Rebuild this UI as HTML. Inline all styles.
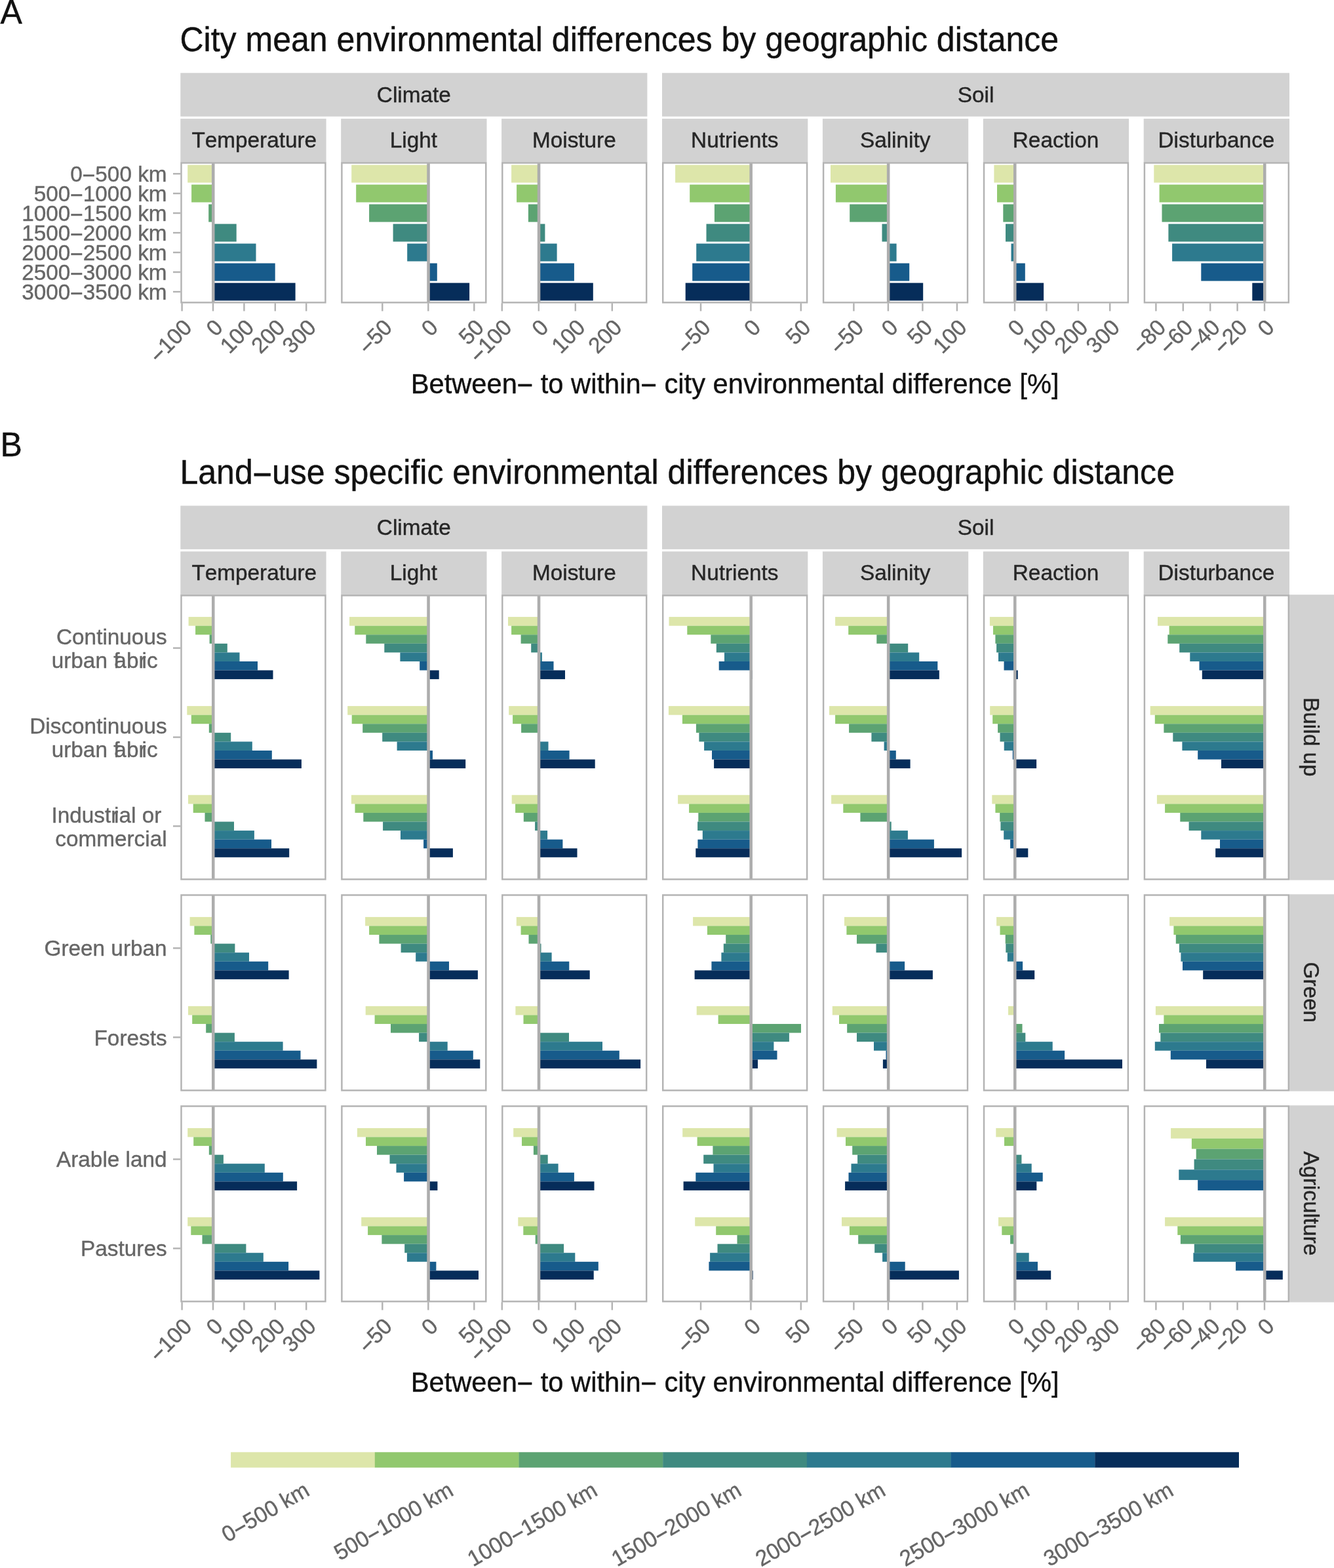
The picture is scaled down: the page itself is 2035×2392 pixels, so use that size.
<!DOCTYPE html>
<html lang="en">
<head>
<meta charset="utf-8">
<title>Environmental differences by geographic distance</title>
<style>html,body{margin:0;padding:0;background:#fff}body{width:2035px;height:2392px;overflow:hidden}svg{display:block}text{white-space:pre;font-kerning:none;stroke-width:0.4px;stroke-linejoin:round}</style>
</head>
<body>
<svg width="2035" height="2392" viewBox="0 0 2035 2392" font-family='"Liberation Sans", sans-serif'>
<rect x="0" y="0" width="2035" height="2392" fill="#FFFFFF"/>
<text transform="translate(0.5 35.8) scale(1 1.02)" font-size="50.05" fill="#111111" stroke="#111111" text-anchor="start">A</text>
<text transform="translate(274.4 78.2) scale(1 1.02)" font-size="50.05" fill="#111111" stroke="#111111" text-anchor="start">City mean environmental differences by geographic distance</text>
<rect x="275.3" y="111.3" width="712.1" height="66.4" fill="#D2D2D2"/>
<rect x="1010" y="111.3" width="957" height="66.4" fill="#D2D2D2"/>
<text transform="translate(631.35 155.7) scale(1 1.02)" font-size="33.33" fill="#262626" stroke="#262626" text-anchor="middle">Climate</text>
<text transform="translate(1488.5 155.7) scale(1 1.02)" font-size="33.33" fill="#262626" stroke="#262626" text-anchor="middle">Soil</text>
<rect x="275.3" y="181.1" width="222.3" height="66.6" fill="#D2D2D2"/>
<text transform="translate(387.75 224.8) scale(1 1.02)" font-size="33.33" fill="#262626" stroke="#262626" text-anchor="middle">Temperature</text>
<rect x="520.2" y="181.1" width="222.3" height="66.6" fill="#D2D2D2"/>
<text transform="translate(630.95 224.8) scale(1 1.02)" font-size="33.33" fill="#262626" stroke="#262626" text-anchor="middle">Light</text>
<rect x="765.1" y="181.1" width="222.3" height="66.6" fill="#D2D2D2"/>
<text transform="translate(875.85 224.8) scale(1 1.02)" font-size="33.33" fill="#262626" stroke="#262626" text-anchor="middle">Moisture</text>
<rect x="1010" y="181.1" width="222.3" height="66.6" fill="#D2D2D2"/>
<text transform="translate(1120.75 224.8) scale(1 1.02)" font-size="33.33" fill="#262626" stroke="#262626" text-anchor="middle">Nutrients</text>
<rect x="1254.9" y="181.1" width="222.3" height="66.6" fill="#D2D2D2"/>
<text transform="translate(1365.65 224.8) scale(1 1.02)" font-size="33.33" fill="#262626" stroke="#262626" text-anchor="middle">Salinity</text>
<rect x="1499.8" y="181.1" width="222.3" height="66.6" fill="#D2D2D2"/>
<text transform="translate(1610.55 224.8) scale(1 1.02)" font-size="33.33" fill="#262626" stroke="#262626" text-anchor="middle">Reaction</text>
<rect x="1744.7" y="181.1" width="222.3" height="66.6" fill="#D2D2D2"/>
<text transform="translate(1855.45 224.8) scale(1 1.02)" font-size="33.33" fill="#262626" stroke="#262626" text-anchor="middle">Disturbance</text>
<rect x="276.5" y="248.5" width="219.9" height="213" fill="#FFFFFF"/>
<rect x="286.2" y="251.6" width="38.8" height="27" fill="#DDE6AA"/>
<rect x="292.1" y="281.6" width="32.9" height="27" fill="#91C86E"/>
<rect x="318.2" y="311.6" width="6.8" height="27" fill="#5CA372"/>
<rect x="325" y="341.6" width="35.7" height="27" fill="#3F8A80"/>
<rect x="325" y="371.6" width="65.5" height="27" fill="#2D7A8E"/>
<rect x="325" y="401.6" width="94.7" height="27" fill="#175B8B"/>
<rect x="325" y="431.6" width="125.6" height="27" fill="#062D5A"/>
<line x1="325.25" x2="325.25" y1="248.5" y2="461.5" stroke="#ADADAD" stroke-width="4.55"/>
<rect x="276.5" y="248.5" width="219.9" height="213" fill="none" stroke="#B3B3B3" stroke-width="2.45"/>
<rect x="521.4" y="248.5" width="219.9" height="213" fill="#FFFFFF"/>
<rect x="536.2" y="251.6" width="117.1" height="27" fill="#DDE6AA"/>
<rect x="543.2" y="281.6" width="110.1" height="27" fill="#91C86E"/>
<rect x="563.1" y="311.6" width="90.2" height="27" fill="#5CA372"/>
<rect x="599.6" y="341.6" width="53.7" height="27" fill="#3F8A80"/>
<rect x="621.2" y="371.6" width="32.1" height="27" fill="#2D7A8E"/>
<rect x="653.3" y="401.6" width="13.5" height="27" fill="#175B8B"/>
<rect x="653.3" y="431.6" width="62.8" height="27" fill="#062D5A"/>
<line x1="653.55" x2="653.55" y1="248.5" y2="461.5" stroke="#ADADAD" stroke-width="4.55"/>
<rect x="521.4" y="248.5" width="219.9" height="213" fill="none" stroke="#B3B3B3" stroke-width="2.45"/>
<rect x="766.3" y="248.5" width="219.9" height="213" fill="#FFFFFF"/>
<rect x="780.1" y="251.6" width="41.7" height="27" fill="#DDE6AA"/>
<rect x="788.1" y="281.6" width="33.7" height="27" fill="#91C86E"/>
<rect x="805.9" y="311.6" width="15.9" height="27" fill="#5CA372"/>
<rect x="821.8" y="341.6" width="9.6" height="27" fill="#3F8A80"/>
<rect x="821.8" y="371.6" width="27.8" height="27" fill="#2D7A8E"/>
<rect x="821.8" y="401.6" width="54.1" height="27" fill="#175B8B"/>
<rect x="821.8" y="431.6" width="83" height="27" fill="#062D5A"/>
<line x1="822.05" x2="822.05" y1="248.5" y2="461.5" stroke="#ADADAD" stroke-width="4.55"/>
<rect x="766.3" y="248.5" width="219.9" height="213" fill="none" stroke="#B3B3B3" stroke-width="2.45"/>
<rect x="1011.2" y="248.5" width="219.9" height="213" fill="#FFFFFF"/>
<rect x="1030.1" y="251.6" width="115.3" height="27" fill="#DDE6AA"/>
<rect x="1052.2" y="281.6" width="93.2" height="27" fill="#91C86E"/>
<rect x="1089.9" y="311.6" width="55.5" height="27" fill="#5CA372"/>
<rect x="1077.5" y="341.6" width="67.9" height="27" fill="#3F8A80"/>
<rect x="1062.2" y="371.6" width="83.2" height="27" fill="#2D7A8E"/>
<rect x="1056.2" y="401.6" width="89.2" height="27" fill="#175B8B"/>
<rect x="1045.7" y="431.6" width="99.7" height="27" fill="#062D5A"/>
<line x1="1145.65" x2="1145.65" y1="248.5" y2="461.5" stroke="#ADADAD" stroke-width="4.55"/>
<rect x="1011.2" y="248.5" width="219.9" height="213" fill="none" stroke="#B3B3B3" stroke-width="2.45"/>
<rect x="1256.1" y="248.5" width="219.9" height="213" fill="#FFFFFF"/>
<rect x="1267" y="251.6" width="87.9" height="27" fill="#DDE6AA"/>
<rect x="1274.9" y="281.6" width="80" height="27" fill="#91C86E"/>
<rect x="1296.2" y="311.6" width="58.7" height="27" fill="#5CA372"/>
<rect x="1345.5" y="341.6" width="9.4" height="27" fill="#3F8A80"/>
<rect x="1354.9" y="371.6" width="12.7" height="27" fill="#2D7A8E"/>
<rect x="1354.9" y="401.6" width="32.3" height="27" fill="#175B8B"/>
<rect x="1354.9" y="431.6" width="53.3" height="27" fill="#062D5A"/>
<line x1="1355.15" x2="1355.15" y1="248.5" y2="461.5" stroke="#ADADAD" stroke-width="4.55"/>
<rect x="1256.1" y="248.5" width="219.9" height="213" fill="none" stroke="#B3B3B3" stroke-width="2.45"/>
<rect x="1501" y="248.5" width="219.9" height="213" fill="#FFFFFF"/>
<rect x="1516.4" y="251.6" width="31.6" height="27" fill="#DDE6AA"/>
<rect x="1521" y="281.6" width="27" height="27" fill="#91C86E"/>
<rect x="1530.3" y="311.6" width="17.7" height="27" fill="#5CA372"/>
<rect x="1534" y="341.6" width="14" height="27" fill="#3F8A80"/>
<rect x="1542.5" y="371.6" width="5.5" height="27" fill="#2D7A8E"/>
<rect x="1548" y="401.6" width="15.8" height="27" fill="#175B8B"/>
<rect x="1548" y="431.6" width="44.1" height="27" fill="#062D5A"/>
<line x1="1548.25" x2="1548.25" y1="248.5" y2="461.5" stroke="#ADADAD" stroke-width="4.55"/>
<rect x="1501" y="248.5" width="219.9" height="213" fill="none" stroke="#B3B3B3" stroke-width="2.45"/>
<rect x="1745.9" y="248.5" width="219.9" height="213" fill="#FFFFFF"/>
<rect x="1760.3" y="251.6" width="168.7" height="27" fill="#DDE6AA"/>
<rect x="1768.6" y="281.6" width="160.4" height="27" fill="#91C86E"/>
<rect x="1772.5" y="311.6" width="156.5" height="27" fill="#5CA372"/>
<rect x="1782.4" y="341.6" width="146.6" height="27" fill="#3F8A80"/>
<rect x="1788.1" y="371.6" width="140.9" height="27" fill="#2D7A8E"/>
<rect x="1832.3" y="401.6" width="96.7" height="27" fill="#175B8B"/>
<rect x="1910.3" y="431.6" width="18.7" height="27" fill="#062D5A"/>
<line x1="1929.25" x2="1929.25" y1="248.5" y2="461.5" stroke="#ADADAD" stroke-width="4.55"/>
<rect x="1745.9" y="248.5" width="219.9" height="213" fill="none" stroke="#B3B3B3" stroke-width="2.45"/>
<line x1="264" x2="275.3" y1="265.1" y2="265.1" stroke="#B3B3B3" stroke-width="2.45"/>
<text transform="translate(254.6 277) scale(1 1.02)" font-size="33.33" fill="#666666" stroke="#666666" text-anchor="end">0<tspan dy="1.8" stroke="#666666" stroke-width="0.67">−</tspan><tspan dy="-1.8">500 km</tspan></text>
<line x1="264" x2="275.3" y1="295.1" y2="295.1" stroke="#B3B3B3" stroke-width="2.45"/>
<text transform="translate(254.6 307) scale(1 1.02)" font-size="33.33" fill="#666666" stroke="#666666" text-anchor="end">500<tspan dy="1.8" stroke="#666666" stroke-width="0.67">−</tspan><tspan dy="-1.8">1000 km</tspan></text>
<line x1="264" x2="275.3" y1="325.1" y2="325.1" stroke="#B3B3B3" stroke-width="2.45"/>
<text transform="translate(254.6 337) scale(1 1.02)" font-size="33.33" fill="#666666" stroke="#666666" text-anchor="end">1000<tspan dy="1.8" stroke="#666666" stroke-width="0.67">−</tspan><tspan dy="-1.8">1500 km</tspan></text>
<line x1="264" x2="275.3" y1="355.1" y2="355.1" stroke="#B3B3B3" stroke-width="2.45"/>
<text transform="translate(254.6 367) scale(1 1.02)" font-size="33.33" fill="#666666" stroke="#666666" text-anchor="end">1500<tspan dy="1.8" stroke="#666666" stroke-width="0.67">−</tspan><tspan dy="-1.8">2000 km</tspan></text>
<line x1="264" x2="275.3" y1="385.1" y2="385.1" stroke="#B3B3B3" stroke-width="2.45"/>
<text transform="translate(254.6 397) scale(1 1.02)" font-size="33.33" fill="#666666" stroke="#666666" text-anchor="end">2000<tspan dy="1.8" stroke="#666666" stroke-width="0.67">−</tspan><tspan dy="-1.8">2500 km</tspan></text>
<line x1="264" x2="275.3" y1="415.1" y2="415.1" stroke="#B3B3B3" stroke-width="2.45"/>
<text transform="translate(254.6 427) scale(1 1.02)" font-size="33.33" fill="#666666" stroke="#666666" text-anchor="end">2500<tspan dy="1.8" stroke="#666666" stroke-width="0.67">−</tspan><tspan dy="-1.8">3000 km</tspan></text>
<line x1="264" x2="275.3" y1="445.1" y2="445.1" stroke="#B3B3B3" stroke-width="2.45"/>
<text transform="translate(254.6 457) scale(1 1.02)" font-size="33.33" fill="#666666" stroke="#666666" text-anchor="end">3000<tspan dy="1.8" stroke="#666666" stroke-width="0.67">−</tspan><tspan dy="-1.8">3500 km</tspan></text>
<line x1="277.6" x2="277.6" y1="462.43" y2="474.62" stroke="#B3B3B3" stroke-width="2.45"/>
<text transform="translate(277.6 484.73) rotate(-45) translate(0 23.9) scale(1 1.02)" font-size="33.33" fill="#666666" stroke="#666666" text-anchor="end"><tspan dy="1.8" stroke="#666666" stroke-width="0.67">−</tspan><tspan dy="-1.8">100</tspan></text>
<line x1="325" x2="325" y1="462.43" y2="474.62" stroke="#B3B3B3" stroke-width="2.45"/>
<text transform="translate(325 484.73) rotate(-45) translate(0 23.9) scale(1 1.02)" font-size="33.33" fill="#666666" stroke="#666666" text-anchor="end">0</text>
<line x1="372.4" x2="372.4" y1="462.43" y2="474.62" stroke="#B3B3B3" stroke-width="2.45"/>
<text transform="translate(372.4 484.73) rotate(-45) translate(0 23.9) scale(1 1.02)" font-size="33.33" fill="#666666" stroke="#666666" text-anchor="end">100</text>
<line x1="419.8" x2="419.8" y1="462.43" y2="474.62" stroke="#B3B3B3" stroke-width="2.45"/>
<text transform="translate(419.8 484.73) rotate(-45) translate(0 23.9) scale(1 1.02)" font-size="33.33" fill="#666666" stroke="#666666" text-anchor="end">200</text>
<line x1="467.2" x2="467.2" y1="462.43" y2="474.62" stroke="#B3B3B3" stroke-width="2.45"/>
<text transform="translate(467.2 484.73) rotate(-45) translate(0 23.9) scale(1 1.02)" font-size="33.33" fill="#666666" stroke="#666666" text-anchor="end">300</text>
<line x1="583.3" x2="583.3" y1="462.43" y2="474.62" stroke="#B3B3B3" stroke-width="2.45"/>
<text transform="translate(583.3 484.73) rotate(-45) translate(0 23.9) scale(1 1.02)" font-size="33.33" fill="#666666" stroke="#666666" text-anchor="end"><tspan dy="1.8" stroke="#666666" stroke-width="0.67">−</tspan><tspan dy="-1.8">50</tspan></text>
<line x1="653.3" x2="653.3" y1="462.43" y2="474.62" stroke="#B3B3B3" stroke-width="2.45"/>
<text transform="translate(653.3 484.73) rotate(-45) translate(0 23.9) scale(1 1.02)" font-size="33.33" fill="#666666" stroke="#666666" text-anchor="end">0</text>
<line x1="723.3" x2="723.3" y1="462.43" y2="474.62" stroke="#B3B3B3" stroke-width="2.45"/>
<text transform="translate(723.3 484.73) rotate(-45) translate(0 23.9) scale(1 1.02)" font-size="33.33" fill="#666666" stroke="#666666" text-anchor="end">50</text>
<line x1="765.8" x2="765.8" y1="462.43" y2="474.62" stroke="#B3B3B3" stroke-width="2.45"/>
<text transform="translate(765.8 484.73) rotate(-45) translate(0 23.9) scale(1 1.02)" font-size="33.33" fill="#666666" stroke="#666666" text-anchor="end"><tspan dy="1.8" stroke="#666666" stroke-width="0.67">−</tspan><tspan dy="-1.8">100</tspan></text>
<line x1="821.8" x2="821.8" y1="462.43" y2="474.62" stroke="#B3B3B3" stroke-width="2.45"/>
<text transform="translate(821.8 484.73) rotate(-45) translate(0 23.9) scale(1 1.02)" font-size="33.33" fill="#666666" stroke="#666666" text-anchor="end">0</text>
<line x1="877.8" x2="877.8" y1="462.43" y2="474.62" stroke="#B3B3B3" stroke-width="2.45"/>
<text transform="translate(877.8 484.73) rotate(-45) translate(0 23.9) scale(1 1.02)" font-size="33.33" fill="#666666" stroke="#666666" text-anchor="end">100</text>
<line x1="933.8" x2="933.8" y1="462.43" y2="474.62" stroke="#B3B3B3" stroke-width="2.45"/>
<text transform="translate(933.8 484.73) rotate(-45) translate(0 23.9) scale(1 1.02)" font-size="33.33" fill="#666666" stroke="#666666" text-anchor="end">200</text>
<line x1="1069" x2="1069" y1="462.43" y2="474.62" stroke="#B3B3B3" stroke-width="2.45"/>
<text transform="translate(1069 484.73) rotate(-45) translate(0 23.9) scale(1 1.02)" font-size="33.33" fill="#666666" stroke="#666666" text-anchor="end"><tspan dy="1.8" stroke="#666666" stroke-width="0.67">−</tspan><tspan dy="-1.8">50</tspan></text>
<line x1="1145.4" x2="1145.4" y1="462.43" y2="474.62" stroke="#B3B3B3" stroke-width="2.45"/>
<text transform="translate(1145.4 484.73) rotate(-45) translate(0 23.9) scale(1 1.02)" font-size="33.33" fill="#666666" stroke="#666666" text-anchor="end">0</text>
<line x1="1221.8" x2="1221.8" y1="462.43" y2="474.62" stroke="#B3B3B3" stroke-width="2.45"/>
<text transform="translate(1221.8 484.73) rotate(-45) translate(0 23.9) scale(1 1.02)" font-size="33.33" fill="#666666" stroke="#666666" text-anchor="end">50</text>
<line x1="1302.4" x2="1302.4" y1="462.43" y2="474.62" stroke="#B3B3B3" stroke-width="2.45"/>
<text transform="translate(1302.4 484.73) rotate(-45) translate(0 23.9) scale(1 1.02)" font-size="33.33" fill="#666666" stroke="#666666" text-anchor="end"><tspan dy="1.8" stroke="#666666" stroke-width="0.67">−</tspan><tspan dy="-1.8">50</tspan></text>
<line x1="1354.9" x2="1354.9" y1="462.43" y2="474.62" stroke="#B3B3B3" stroke-width="2.45"/>
<text transform="translate(1354.9 484.73) rotate(-45) translate(0 23.9) scale(1 1.02)" font-size="33.33" fill="#666666" stroke="#666666" text-anchor="end">0</text>
<line x1="1407.4" x2="1407.4" y1="462.43" y2="474.62" stroke="#B3B3B3" stroke-width="2.45"/>
<text transform="translate(1407.4 484.73) rotate(-45) translate(0 23.9) scale(1 1.02)" font-size="33.33" fill="#666666" stroke="#666666" text-anchor="end">50</text>
<line x1="1459.9" x2="1459.9" y1="462.43" y2="474.62" stroke="#B3B3B3" stroke-width="2.45"/>
<text transform="translate(1459.9 484.73) rotate(-45) translate(0 23.9) scale(1 1.02)" font-size="33.33" fill="#666666" stroke="#666666" text-anchor="end">100</text>
<line x1="1548" x2="1548" y1="462.43" y2="474.62" stroke="#B3B3B3" stroke-width="2.45"/>
<text transform="translate(1548 484.73) rotate(-45) translate(0 23.9) scale(1 1.02)" font-size="33.33" fill="#666666" stroke="#666666" text-anchor="end">0</text>
<line x1="1596.4" x2="1596.4" y1="462.43" y2="474.62" stroke="#B3B3B3" stroke-width="2.45"/>
<text transform="translate(1596.4 484.73) rotate(-45) translate(0 23.9) scale(1 1.02)" font-size="33.33" fill="#666666" stroke="#666666" text-anchor="end">100</text>
<line x1="1644.8" x2="1644.8" y1="462.43" y2="474.62" stroke="#B3B3B3" stroke-width="2.45"/>
<text transform="translate(1644.8 484.73) rotate(-45) translate(0 23.9) scale(1 1.02)" font-size="33.33" fill="#666666" stroke="#666666" text-anchor="end">200</text>
<line x1="1693.2" x2="1693.2" y1="462.43" y2="474.62" stroke="#B3B3B3" stroke-width="2.45"/>
<text transform="translate(1693.2 484.73) rotate(-45) translate(0 23.9) scale(1 1.02)" font-size="33.33" fill="#666666" stroke="#666666" text-anchor="end">300</text>
<line x1="1763.4" x2="1763.4" y1="462.43" y2="474.62" stroke="#B3B3B3" stroke-width="2.45"/>
<text transform="translate(1763.4 484.73) rotate(-45) translate(0 23.9) scale(1 1.02)" font-size="33.33" fill="#666666" stroke="#666666" text-anchor="end"><tspan dy="1.8" stroke="#666666" stroke-width="0.67">−</tspan><tspan dy="-1.8">80</tspan></text>
<line x1="1804.8" x2="1804.8" y1="462.43" y2="474.62" stroke="#B3B3B3" stroke-width="2.45"/>
<text transform="translate(1804.8 484.73) rotate(-45) translate(0 23.9) scale(1 1.02)" font-size="33.33" fill="#666666" stroke="#666666" text-anchor="end"><tspan dy="1.8" stroke="#666666" stroke-width="0.67">−</tspan><tspan dy="-1.8">60</tspan></text>
<line x1="1846.2" x2="1846.2" y1="462.43" y2="474.62" stroke="#B3B3B3" stroke-width="2.45"/>
<text transform="translate(1846.2 484.73) rotate(-45) translate(0 23.9) scale(1 1.02)" font-size="33.33" fill="#666666" stroke="#666666" text-anchor="end"><tspan dy="1.8" stroke="#666666" stroke-width="0.67">−</tspan><tspan dy="-1.8">40</tspan></text>
<line x1="1887.6" x2="1887.6" y1="462.43" y2="474.62" stroke="#B3B3B3" stroke-width="2.45"/>
<text transform="translate(1887.6 484.73) rotate(-45) translate(0 23.9) scale(1 1.02)" font-size="33.33" fill="#666666" stroke="#666666" text-anchor="end"><tspan dy="1.8" stroke="#666666" stroke-width="0.67">−</tspan><tspan dy="-1.8">20</tspan></text>
<line x1="1929" x2="1929" y1="462.43" y2="474.62" stroke="#B3B3B3" stroke-width="2.45"/>
<text transform="translate(1929 484.73) rotate(-45) translate(0 23.9) scale(1 1.02)" font-size="33.33" fill="#666666" stroke="#666666" text-anchor="end">0</text>
<text transform="translate(1121.1 599.9) scale(1 1.02)" font-size="41.67" fill="#111111" stroke="#111111" text-anchor="middle">Between<tspan dy="2.25" stroke="#111111" stroke-width="0.83">−</tspan><tspan dy="-2.25"> to within</tspan><tspan dy="2.25" stroke="#111111" stroke-width="0.83">−</tspan><tspan dy="-2.25"> city environmental difference [%]</tspan></text>
<text transform="translate(0.5 696) scale(1 1.02)" font-size="50.05" fill="#111111" stroke="#111111" text-anchor="start">B</text>
<text transform="translate(274.4 738) scale(1 1.02)" font-size="50.05" fill="#111111" stroke="#111111" text-anchor="start">Land<tspan dy="2.7" stroke="#111111" stroke-width="1">−</tspan><tspan dy="-2.7">use specific environmental differences by geographic distance</tspan></text>
<rect x="275.3" y="771.5" width="712.1" height="66.4" fill="#D2D2D2"/>
<rect x="1010" y="771.5" width="957" height="66.4" fill="#D2D2D2"/>
<text transform="translate(631.35 815.9) scale(1 1.02)" font-size="33.33" fill="#262626" stroke="#262626" text-anchor="middle">Climate</text>
<text transform="translate(1488.5 815.9) scale(1 1.02)" font-size="33.33" fill="#262626" stroke="#262626" text-anchor="middle">Soil</text>
<rect x="275.3" y="841.3" width="222.3" height="66.6" fill="#D2D2D2"/>
<text transform="translate(387.75 885) scale(1 1.02)" font-size="33.33" fill="#262626" stroke="#262626" text-anchor="middle">Temperature</text>
<rect x="520.2" y="841.3" width="222.3" height="66.6" fill="#D2D2D2"/>
<text transform="translate(630.95 885) scale(1 1.02)" font-size="33.33" fill="#262626" stroke="#262626" text-anchor="middle">Light</text>
<rect x="765.1" y="841.3" width="222.3" height="66.6" fill="#D2D2D2"/>
<text transform="translate(875.85 885) scale(1 1.02)" font-size="33.33" fill="#262626" stroke="#262626" text-anchor="middle">Moisture</text>
<rect x="1010" y="841.3" width="222.3" height="66.6" fill="#D2D2D2"/>
<text transform="translate(1120.75 885) scale(1 1.02)" font-size="33.33" fill="#262626" stroke="#262626" text-anchor="middle">Nutrients</text>
<rect x="1254.9" y="841.3" width="222.3" height="66.6" fill="#D2D2D2"/>
<text transform="translate(1365.65 885) scale(1 1.02)" font-size="33.33" fill="#262626" stroke="#262626" text-anchor="middle">Salinity</text>
<rect x="1499.8" y="841.3" width="222.3" height="66.6" fill="#D2D2D2"/>
<text transform="translate(1610.55 885) scale(1 1.02)" font-size="33.33" fill="#262626" stroke="#262626" text-anchor="middle">Reaction</text>
<rect x="1744.7" y="841.3" width="222.3" height="66.6" fill="#D2D2D2"/>
<text transform="translate(1855.45 885) scale(1 1.02)" font-size="33.33" fill="#262626" stroke="#262626" text-anchor="middle">Disturbance</text>
<rect x="276.5" y="908.4" width="219.9" height="433" fill="#FFFFFF"/>
<rect x="287.6" y="941.1" width="37.4" height="13.57" fill="#DDE6AA"/>
<rect x="298.1" y="954.67" width="26.9" height="13.57" fill="#91C86E"/>
<rect x="319.6" y="968.24" width="5.4" height="13.57" fill="#5CA372"/>
<rect x="325" y="981.81" width="21.8" height="13.57" fill="#3F8A80"/>
<rect x="325" y="995.39" width="40.5" height="13.57" fill="#2D7A8E"/>
<rect x="325" y="1008.96" width="68" height="13.57" fill="#175B8B"/>
<rect x="325" y="1022.53" width="91.5" height="13.57" fill="#062D5A"/>
<rect x="285.3" y="1077.1" width="39.7" height="13.57" fill="#DDE6AA"/>
<rect x="291.8" y="1090.67" width="33.2" height="13.57" fill="#91C86E"/>
<rect x="318.8" y="1104.24" width="6.2" height="13.57" fill="#5CA372"/>
<rect x="325" y="1117.81" width="27.2" height="13.57" fill="#3F8A80"/>
<rect x="325" y="1131.39" width="59.8" height="13.57" fill="#2D7A8E"/>
<rect x="325" y="1144.96" width="89.8" height="13.57" fill="#175B8B"/>
<rect x="325" y="1158.53" width="134.9" height="13.57" fill="#062D5A"/>
<rect x="287" y="1212.8" width="38" height="13.57" fill="#DDE6AA"/>
<rect x="294.7" y="1226.37" width="30.3" height="13.57" fill="#91C86E"/>
<rect x="312.5" y="1239.94" width="12.5" height="13.57" fill="#5CA372"/>
<rect x="325" y="1253.51" width="32" height="13.57" fill="#3F8A80"/>
<rect x="325" y="1267.09" width="62.9" height="13.57" fill="#2D7A8E"/>
<rect x="325" y="1280.66" width="89" height="13.57" fill="#175B8B"/>
<rect x="325" y="1294.23" width="116.2" height="13.57" fill="#062D5A"/>
<line x1="325.25" x2="325.25" y1="908.4" y2="1341.4" stroke="#ADADAD" stroke-width="4.55"/>
<rect x="276.5" y="908.4" width="219.9" height="433" fill="none" stroke="#B3B3B3" stroke-width="2.45"/>
<rect x="521.4" y="908.4" width="219.9" height="433" fill="#FFFFFF"/>
<rect x="533" y="941.1" width="120.3" height="13.57" fill="#DDE6AA"/>
<rect x="541.3" y="954.67" width="112" height="13.57" fill="#91C86E"/>
<rect x="558.3" y="968.24" width="95" height="13.57" fill="#5CA372"/>
<rect x="586.3" y="981.81" width="67" height="13.57" fill="#3F8A80"/>
<rect x="610.4" y="995.39" width="42.9" height="13.57" fill="#2D7A8E"/>
<rect x="640.2" y="1008.96" width="13.1" height="13.57" fill="#175B8B"/>
<rect x="653.3" y="1022.53" width="16.4" height="13.57" fill="#062D5A"/>
<rect x="530.2" y="1077.1" width="123.1" height="13.57" fill="#DDE6AA"/>
<rect x="536.7" y="1090.67" width="116.6" height="13.57" fill="#91C86E"/>
<rect x="553.2" y="1104.24" width="100.1" height="13.57" fill="#5CA372"/>
<rect x="583.2" y="1117.81" width="70.1" height="13.57" fill="#3F8A80"/>
<rect x="605.6" y="1131.39" width="47.7" height="13.57" fill="#2D7A8E"/>
<rect x="653.3" y="1144.96" width="6.7" height="13.57" fill="#175B8B"/>
<rect x="653.3" y="1158.53" width="56.9" height="13.57" fill="#062D5A"/>
<rect x="535.9" y="1212.8" width="117.4" height="13.57" fill="#DDE6AA"/>
<rect x="541.5" y="1226.37" width="111.8" height="13.57" fill="#91C86E"/>
<rect x="554.3" y="1239.94" width="99" height="13.57" fill="#5CA372"/>
<rect x="584.1" y="1253.51" width="69.2" height="13.57" fill="#3F8A80"/>
<rect x="611" y="1267.09" width="42.3" height="13.57" fill="#2D7A8E"/>
<rect x="646.1" y="1280.66" width="7.2" height="13.57" fill="#175B8B"/>
<rect x="653.3" y="1294.23" width="37.6" height="13.57" fill="#062D5A"/>
<line x1="653.55" x2="653.55" y1="908.4" y2="1341.4" stroke="#ADADAD" stroke-width="4.55"/>
<rect x="521.4" y="908.4" width="219.9" height="433" fill="none" stroke="#B3B3B3" stroke-width="2.45"/>
<rect x="766.3" y="908.4" width="219.9" height="433" fill="#FFFFFF"/>
<rect x="775" y="941.1" width="46.8" height="13.57" fill="#DDE6AA"/>
<rect x="780.1" y="954.67" width="41.7" height="13.57" fill="#91C86E"/>
<rect x="794.6" y="968.24" width="27.2" height="13.57" fill="#5CA372"/>
<rect x="810.2" y="981.81" width="11.6" height="13.57" fill="#3F8A80"/>
<rect x="821.8" y="995.39" width="5.1" height="13.57" fill="#2D7A8E"/>
<rect x="821.8" y="1008.96" width="22.7" height="13.57" fill="#175B8B"/>
<rect x="821.8" y="1022.53" width="40.2" height="13.57" fill="#062D5A"/>
<rect x="776.2" y="1077.1" width="45.6" height="13.57" fill="#DDE6AA"/>
<rect x="782.1" y="1090.67" width="39.7" height="13.57" fill="#91C86E"/>
<rect x="795.1" y="1104.24" width="26.7" height="13.57" fill="#5CA372"/>
<rect x="821.8" y="1131.39" width="14.7" height="13.57" fill="#2D7A8E"/>
<rect x="821.8" y="1144.96" width="46.8" height="13.57" fill="#175B8B"/>
<rect x="821.8" y="1158.53" width="85.9" height="13.57" fill="#062D5A"/>
<rect x="780.7" y="1212.8" width="41.1" height="13.57" fill="#DDE6AA"/>
<rect x="786.1" y="1226.37" width="35.7" height="13.57" fill="#91C86E"/>
<rect x="798.8" y="1239.94" width="23" height="13.57" fill="#5CA372"/>
<rect x="816.1" y="1253.51" width="5.7" height="13.57" fill="#3F8A80"/>
<rect x="821.8" y="1267.09" width="13.3" height="13.57" fill="#2D7A8E"/>
<rect x="821.8" y="1280.66" width="36.6" height="13.57" fill="#175B8B"/>
<rect x="821.8" y="1294.23" width="58.7" height="13.57" fill="#062D5A"/>
<line x1="822.05" x2="822.05" y1="908.4" y2="1341.4" stroke="#ADADAD" stroke-width="4.55"/>
<rect x="766.3" y="908.4" width="219.9" height="433" fill="none" stroke="#B3B3B3" stroke-width="2.45"/>
<rect x="1011.2" y="908.4" width="219.9" height="433" fill="#FFFFFF"/>
<rect x="1020.5" y="941.1" width="124.9" height="13.57" fill="#DDE6AA"/>
<rect x="1048.3" y="954.67" width="97.1" height="13.57" fill="#91C86E"/>
<rect x="1084.3" y="968.24" width="61.1" height="13.57" fill="#5CA372"/>
<rect x="1092.8" y="981.81" width="52.6" height="13.57" fill="#3F8A80"/>
<rect x="1105" y="995.39" width="40.4" height="13.57" fill="#2D7A8E"/>
<rect x="1096.7" y="1008.96" width="48.7" height="13.57" fill="#175B8B"/>
<rect x="1145.4" y="1022.53" width="2.6" height="13.57" fill="#062D5A"/>
<rect x="1019.9" y="1077.1" width="125.5" height="13.57" fill="#DDE6AA"/>
<rect x="1040.9" y="1090.67" width="104.5" height="13.57" fill="#91C86E"/>
<rect x="1061.9" y="1104.24" width="83.5" height="13.57" fill="#5CA372"/>
<rect x="1066.4" y="1117.81" width="79" height="13.57" fill="#3F8A80"/>
<rect x="1074.1" y="1131.39" width="71.3" height="13.57" fill="#2D7A8E"/>
<rect x="1086" y="1144.96" width="59.4" height="13.57" fill="#175B8B"/>
<rect x="1089.1" y="1158.53" width="56.3" height="13.57" fill="#062D5A"/>
<rect x="1034.1" y="1212.8" width="111.3" height="13.57" fill="#DDE6AA"/>
<rect x="1051.1" y="1226.37" width="94.3" height="13.57" fill="#91C86E"/>
<rect x="1065.3" y="1239.94" width="80.1" height="13.57" fill="#5CA372"/>
<rect x="1064.1" y="1253.51" width="81.3" height="13.57" fill="#3F8A80"/>
<rect x="1071.8" y="1267.09" width="73.6" height="13.57" fill="#2D7A8E"/>
<rect x="1064.4" y="1280.66" width="81" height="13.57" fill="#175B8B"/>
<rect x="1061.3" y="1294.23" width="84.1" height="13.57" fill="#062D5A"/>
<line x1="1145.65" x2="1145.65" y1="908.4" y2="1341.4" stroke="#ADADAD" stroke-width="4.55"/>
<rect x="1011.2" y="908.4" width="219.9" height="433" fill="none" stroke="#B3B3B3" stroke-width="2.45"/>
<rect x="1256.1" y="908.4" width="219.9" height="433" fill="#FFFFFF"/>
<rect x="1274.1" y="941.1" width="80.8" height="13.57" fill="#DDE6AA"/>
<rect x="1294.2" y="954.67" width="60.7" height="13.57" fill="#91C86E"/>
<rect x="1337.3" y="968.24" width="17.6" height="13.57" fill="#5CA372"/>
<rect x="1354.9" y="981.81" width="30.3" height="13.57" fill="#3F8A80"/>
<rect x="1354.9" y="995.39" width="47.3" height="13.57" fill="#2D7A8E"/>
<rect x="1354.9" y="1008.96" width="75.4" height="13.57" fill="#175B8B"/>
<rect x="1354.9" y="1022.53" width="77.9" height="13.57" fill="#062D5A"/>
<rect x="1265" y="1077.1" width="89.9" height="13.57" fill="#DDE6AA"/>
<rect x="1274.1" y="1090.67" width="80.8" height="13.57" fill="#91C86E"/>
<rect x="1295.1" y="1104.24" width="59.8" height="13.57" fill="#5CA372"/>
<rect x="1329.4" y="1117.81" width="25.5" height="13.57" fill="#3F8A80"/>
<rect x="1348.6" y="1131.39" width="6.3" height="13.57" fill="#2D7A8E"/>
<rect x="1354.9" y="1144.96" width="11.9" height="13.57" fill="#175B8B"/>
<rect x="1354.9" y="1158.53" width="33.7" height="13.57" fill="#062D5A"/>
<rect x="1268.1" y="1212.8" width="86.8" height="13.57" fill="#DDE6AA"/>
<rect x="1286.3" y="1226.37" width="68.6" height="13.57" fill="#91C86E"/>
<rect x="1312.4" y="1239.94" width="42.5" height="13.57" fill="#5CA372"/>
<rect x="1354.9" y="1253.51" width="4.8" height="13.57" fill="#3F8A80"/>
<rect x="1354.9" y="1267.09" width="30" height="13.57" fill="#2D7A8E"/>
<rect x="1354.9" y="1280.66" width="70" height="13.57" fill="#175B8B"/>
<rect x="1354.9" y="1294.23" width="112.2" height="13.57" fill="#062D5A"/>
<line x1="1355.15" x2="1355.15" y1="908.4" y2="1341.4" stroke="#ADADAD" stroke-width="4.55"/>
<rect x="1256.1" y="908.4" width="219.9" height="433" fill="none" stroke="#B3B3B3" stroke-width="2.45"/>
<rect x="1501" y="908.4" width="219.9" height="433" fill="#FFFFFF"/>
<rect x="1509.9" y="941.1" width="38.1" height="13.57" fill="#DDE6AA"/>
<rect x="1515" y="954.67" width="33" height="13.57" fill="#91C86E"/>
<rect x="1518.4" y="968.24" width="29.6" height="13.57" fill="#5CA372"/>
<rect x="1520.1" y="981.81" width="27.9" height="13.57" fill="#3F8A80"/>
<rect x="1523" y="995.39" width="25" height="13.57" fill="#2D7A8E"/>
<rect x="1531.5" y="1008.96" width="16.5" height="13.57" fill="#175B8B"/>
<rect x="1548" y="1022.53" width="4.7" height="13.57" fill="#062D5A"/>
<rect x="1510.2" y="1077.1" width="37.8" height="13.57" fill="#DDE6AA"/>
<rect x="1514.2" y="1090.67" width="33.8" height="13.57" fill="#91C86E"/>
<rect x="1522.1" y="1104.24" width="25.9" height="13.57" fill="#5CA372"/>
<rect x="1525.5" y="1117.81" width="22.5" height="13.57" fill="#3F8A80"/>
<rect x="1531.7" y="1131.39" width="16.3" height="13.57" fill="#2D7A8E"/>
<rect x="1544.8" y="1144.96" width="3.2" height="13.57" fill="#175B8B"/>
<rect x="1548" y="1158.53" width="33.1" height="13.57" fill="#062D5A"/>
<rect x="1513.3" y="1212.8" width="34.7" height="13.57" fill="#DDE6AA"/>
<rect x="1518.4" y="1226.37" width="29.6" height="13.57" fill="#91C86E"/>
<rect x="1525.2" y="1239.94" width="22.8" height="13.57" fill="#5CA372"/>
<rect x="1526.4" y="1253.51" width="21.6" height="13.57" fill="#3F8A80"/>
<rect x="1531.2" y="1267.09" width="16.8" height="13.57" fill="#2D7A8E"/>
<rect x="1541.1" y="1280.66" width="6.9" height="13.57" fill="#175B8B"/>
<rect x="1548" y="1294.23" width="20.3" height="13.57" fill="#062D5A"/>
<line x1="1548.25" x2="1548.25" y1="908.4" y2="1341.4" stroke="#ADADAD" stroke-width="4.55"/>
<rect x="1501" y="908.4" width="219.9" height="433" fill="none" stroke="#B3B3B3" stroke-width="2.45"/>
<rect x="1745.9" y="908.4" width="219.9" height="433" fill="#FFFFFF"/>
<rect x="1766" y="941.1" width="163" height="13.57" fill="#DDE6AA"/>
<rect x="1783.6" y="954.67" width="145.4" height="13.57" fill="#91C86E"/>
<rect x="1781.3" y="968.24" width="147.7" height="13.57" fill="#5CA372"/>
<rect x="1799.2" y="981.81" width="129.8" height="13.57" fill="#3F8A80"/>
<rect x="1815.3" y="995.39" width="113.7" height="13.57" fill="#2D7A8E"/>
<rect x="1829.5" y="1008.96" width="99.5" height="13.57" fill="#175B8B"/>
<rect x="1833.8" y="1022.53" width="95.2" height="13.57" fill="#062D5A"/>
<rect x="1754.7" y="1077.1" width="174.3" height="13.57" fill="#DDE6AA"/>
<rect x="1761.8" y="1090.67" width="167.2" height="13.57" fill="#91C86E"/>
<rect x="1775.4" y="1104.24" width="153.6" height="13.57" fill="#5CA372"/>
<rect x="1789.3" y="1117.81" width="139.7" height="13.57" fill="#3F8A80"/>
<rect x="1803.4" y="1131.39" width="125.6" height="13.57" fill="#2D7A8E"/>
<rect x="1827.2" y="1144.96" width="101.8" height="13.57" fill="#175B8B"/>
<rect x="1863" y="1158.53" width="66" height="13.57" fill="#062D5A"/>
<rect x="1764.9" y="1212.8" width="164.1" height="13.57" fill="#DDE6AA"/>
<rect x="1777.1" y="1226.37" width="151.9" height="13.57" fill="#91C86E"/>
<rect x="1800.3" y="1239.94" width="128.7" height="13.57" fill="#5CA372"/>
<rect x="1813.6" y="1253.51" width="115.4" height="13.57" fill="#3F8A80"/>
<rect x="1832.3" y="1267.09" width="96.7" height="13.57" fill="#2D7A8E"/>
<rect x="1861" y="1280.66" width="68" height="13.57" fill="#175B8B"/>
<rect x="1854.2" y="1294.23" width="74.8" height="13.57" fill="#062D5A"/>
<line x1="1929.25" x2="1929.25" y1="908.4" y2="1341.4" stroke="#ADADAD" stroke-width="4.55"/>
<rect x="1745.9" y="908.4" width="219.9" height="433" fill="none" stroke="#B3B3B3" stroke-width="2.45"/>
<rect x="1967" y="907.17" width="68" height="435.45" fill="#D2D2D2"/>
<text transform="translate(2001.1 1124.3) rotate(90) translate(0 11.9) scale(1 1.02)" font-size="33.33" fill="#262626" stroke="#262626" text-anchor="middle">Build up</text>
<line x1="264" x2="275.3" y1="988.6" y2="988.6" stroke="#B3B3B3" stroke-width="2.45"/>
<line x1="264" x2="275.3" y1="1124.6" y2="1124.6" stroke="#B3B3B3" stroke-width="2.45"/>
<line x1="264" x2="275.3" y1="1260.3" y2="1260.3" stroke="#B3B3B3" stroke-width="2.45"/>
<rect x="276.5" y="1365.45" width="219.9" height="297.95" fill="#FFFFFF"/>
<rect x="289.6" y="1398.9" width="35.4" height="13.57" fill="#DDE6AA"/>
<rect x="296.4" y="1412.47" width="28.6" height="13.57" fill="#91C86E"/>
<rect x="321.3" y="1426.04" width="3.7" height="13.57" fill="#5CA372"/>
<rect x="325" y="1439.61" width="33.4" height="13.57" fill="#3F8A80"/>
<rect x="325" y="1453.19" width="55" height="13.57" fill="#2D7A8E"/>
<rect x="325" y="1466.76" width="84.2" height="13.57" fill="#175B8B"/>
<rect x="325" y="1480.33" width="115.6" height="13.57" fill="#062D5A"/>
<rect x="287" y="1534.9" width="38" height="13.57" fill="#DDE6AA"/>
<rect x="293.2" y="1548.47" width="31.8" height="13.57" fill="#91C86E"/>
<rect x="314.2" y="1562.04" width="10.8" height="13.57" fill="#5CA372"/>
<rect x="325" y="1575.61" width="32.9" height="13.57" fill="#3F8A80"/>
<rect x="325" y="1589.19" width="106.6" height="13.57" fill="#2D7A8E"/>
<rect x="325" y="1602.76" width="133.5" height="13.57" fill="#175B8B"/>
<rect x="325" y="1616.33" width="158.4" height="13.57" fill="#062D5A"/>
<line x1="325.25" x2="325.25" y1="1365.45" y2="1663.4" stroke="#ADADAD" stroke-width="4.55"/>
<rect x="276.5" y="1365.45" width="219.9" height="297.95" fill="none" stroke="#B3B3B3" stroke-width="2.45"/>
<rect x="521.4" y="1365.45" width="219.9" height="297.95" fill="#FFFFFF"/>
<rect x="557.1" y="1398.9" width="96.2" height="13.57" fill="#DDE6AA"/>
<rect x="563.1" y="1412.47" width="90.2" height="13.57" fill="#91C86E"/>
<rect x="578.4" y="1426.04" width="74.9" height="13.57" fill="#5CA372"/>
<rect x="611.6" y="1439.61" width="41.7" height="13.57" fill="#3F8A80"/>
<rect x="634.2" y="1453.19" width="19.1" height="13.57" fill="#2D7A8E"/>
<rect x="653.3" y="1466.76" width="31.7" height="13.57" fill="#175B8B"/>
<rect x="653.3" y="1480.33" width="75.6" height="13.57" fill="#062D5A"/>
<rect x="557.7" y="1534.9" width="95.6" height="13.57" fill="#DDE6AA"/>
<rect x="571.6" y="1548.47" width="81.7" height="13.57" fill="#91C86E"/>
<rect x="596" y="1562.04" width="57.3" height="13.57" fill="#5CA372"/>
<rect x="639.1" y="1575.61" width="14.2" height="13.57" fill="#3F8A80"/>
<rect x="653.3" y="1589.19" width="29.4" height="13.57" fill="#2D7A8E"/>
<rect x="653.3" y="1602.76" width="68.5" height="13.57" fill="#175B8B"/>
<rect x="653.3" y="1616.33" width="79" height="13.57" fill="#062D5A"/>
<line x1="653.55" x2="653.55" y1="1365.45" y2="1663.4" stroke="#ADADAD" stroke-width="4.55"/>
<rect x="521.4" y="1365.45" width="219.9" height="297.95" fill="none" stroke="#B3B3B3" stroke-width="2.45"/>
<rect x="766.3" y="1365.45" width="219.9" height="297.95" fill="#FFFFFF"/>
<rect x="787.8" y="1398.9" width="34" height="13.57" fill="#DDE6AA"/>
<rect x="794.6" y="1412.47" width="27.2" height="13.57" fill="#91C86E"/>
<rect x="806.5" y="1426.04" width="15.3" height="13.57" fill="#5CA372"/>
<rect x="821.8" y="1439.61" width="3.7" height="13.57" fill="#3F8A80"/>
<rect x="821.8" y="1453.19" width="19.8" height="13.57" fill="#2D7A8E"/>
<rect x="821.8" y="1466.76" width="46.5" height="13.57" fill="#175B8B"/>
<rect x="821.8" y="1480.33" width="77.9" height="13.57" fill="#062D5A"/>
<rect x="786.4" y="1534.9" width="35.4" height="13.57" fill="#DDE6AA"/>
<rect x="798.5" y="1548.47" width="23.3" height="13.57" fill="#91C86E"/>
<rect x="821.8" y="1575.61" width="46.2" height="13.57" fill="#3F8A80"/>
<rect x="821.8" y="1589.19" width="97.2" height="13.57" fill="#2D7A8E"/>
<rect x="821.8" y="1602.76" width="123" height="13.57" fill="#175B8B"/>
<rect x="821.8" y="1616.33" width="155.3" height="13.57" fill="#062D5A"/>
<line x1="822.05" x2="822.05" y1="1365.45" y2="1663.4" stroke="#ADADAD" stroke-width="4.55"/>
<rect x="766.3" y="1365.45" width="219.9" height="297.95" fill="none" stroke="#B3B3B3" stroke-width="2.45"/>
<rect x="1011.2" y="1365.45" width="219.9" height="297.95" fill="#FFFFFF"/>
<rect x="1057.1" y="1398.9" width="88.3" height="13.57" fill="#DDE6AA"/>
<rect x="1078.9" y="1412.47" width="66.5" height="13.57" fill="#91C86E"/>
<rect x="1107.2" y="1426.04" width="38.2" height="13.57" fill="#5CA372"/>
<rect x="1103.8" y="1439.61" width="41.6" height="13.57" fill="#3F8A80"/>
<rect x="1100.4" y="1453.19" width="45" height="13.57" fill="#2D7A8E"/>
<rect x="1085.4" y="1466.76" width="60" height="13.57" fill="#175B8B"/>
<rect x="1059.6" y="1480.33" width="85.8" height="13.57" fill="#062D5A"/>
<rect x="1062.7" y="1534.9" width="82.7" height="13.57" fill="#DDE6AA"/>
<rect x="1095.6" y="1548.47" width="49.8" height="13.57" fill="#91C86E"/>
<rect x="1145.4" y="1562.04" width="76.6" height="13.57" fill="#5CA372"/>
<rect x="1145.4" y="1575.61" width="58.5" height="13.57" fill="#3F8A80"/>
<rect x="1145.4" y="1589.19" width="35" height="13.57" fill="#2D7A8E"/>
<rect x="1145.4" y="1602.76" width="40.1" height="13.57" fill="#175B8B"/>
<rect x="1145.4" y="1616.33" width="10.6" height="13.57" fill="#062D5A"/>
<line x1="1145.65" x2="1145.65" y1="1365.45" y2="1663.4" stroke="#ADADAD" stroke-width="4.55"/>
<rect x="1011.2" y="1365.45" width="219.9" height="297.95" fill="none" stroke="#B3B3B3" stroke-width="2.45"/>
<rect x="1256.1" y="1365.45" width="219.9" height="297.95" fill="#FFFFFF"/>
<rect x="1288" y="1398.9" width="66.9" height="13.57" fill="#DDE6AA"/>
<rect x="1291.4" y="1412.47" width="63.5" height="13.57" fill="#91C86E"/>
<rect x="1307" y="1426.04" width="47.9" height="13.57" fill="#5CA372"/>
<rect x="1336.5" y="1439.61" width="18.4" height="13.57" fill="#3F8A80"/>
<rect x="1354.9" y="1466.76" width="25.2" height="13.57" fill="#175B8B"/>
<rect x="1354.9" y="1480.33" width="68" height="13.57" fill="#062D5A"/>
<rect x="1269.8" y="1534.9" width="85.1" height="13.57" fill="#DDE6AA"/>
<rect x="1280" y="1548.47" width="74.9" height="13.57" fill="#91C86E"/>
<rect x="1292.2" y="1562.04" width="62.7" height="13.57" fill="#5CA372"/>
<rect x="1307" y="1575.61" width="47.9" height="13.57" fill="#3F8A80"/>
<rect x="1333" y="1589.19" width="21.9" height="13.57" fill="#2D7A8E"/>
<rect x="1351.5" y="1602.76" width="3.4" height="13.57" fill="#175B8B"/>
<rect x="1346.9" y="1616.33" width="8" height="13.57" fill="#062D5A"/>
<line x1="1355.15" x2="1355.15" y1="1365.45" y2="1663.4" stroke="#ADADAD" stroke-width="4.55"/>
<rect x="1256.1" y="1365.45" width="219.9" height="297.95" fill="none" stroke="#B3B3B3" stroke-width="2.45"/>
<rect x="1501" y="1365.45" width="219.9" height="297.95" fill="#FFFFFF"/>
<rect x="1520.1" y="1398.9" width="27.9" height="13.57" fill="#DDE6AA"/>
<rect x="1525.5" y="1412.47" width="22.5" height="13.57" fill="#91C86E"/>
<rect x="1533.7" y="1426.04" width="14.3" height="13.57" fill="#5CA372"/>
<rect x="1534.3" y="1439.61" width="13.7" height="13.57" fill="#3F8A80"/>
<rect x="1536.8" y="1453.19" width="11.2" height="13.57" fill="#2D7A8E"/>
<rect x="1548" y="1466.76" width="12.1" height="13.57" fill="#175B8B"/>
<rect x="1548" y="1480.33" width="30.2" height="13.57" fill="#062D5A"/>
<rect x="1538" y="1534.9" width="10" height="13.57" fill="#DDE6AA"/>
<rect x="1548" y="1562.04" width="11.5" height="13.57" fill="#5CA372"/>
<rect x="1548" y="1575.61" width="16.3" height="13.57" fill="#3F8A80"/>
<rect x="1548" y="1589.19" width="57.7" height="13.57" fill="#2D7A8E"/>
<rect x="1548" y="1602.76" width="76.1" height="13.57" fill="#175B8B"/>
<rect x="1548" y="1616.33" width="164" height="13.57" fill="#062D5A"/>
<line x1="1548.25" x2="1548.25" y1="1365.45" y2="1663.4" stroke="#ADADAD" stroke-width="4.55"/>
<rect x="1501" y="1365.45" width="219.9" height="297.95" fill="none" stroke="#B3B3B3" stroke-width="2.45"/>
<rect x="1745.9" y="1365.45" width="219.9" height="297.95" fill="#FFFFFF"/>
<rect x="1784.1" y="1398.9" width="144.9" height="13.57" fill="#DDE6AA"/>
<rect x="1790.4" y="1412.47" width="138.6" height="13.57" fill="#91C86E"/>
<rect x="1793.8" y="1426.04" width="135.2" height="13.57" fill="#5CA372"/>
<rect x="1798.9" y="1439.61" width="130.1" height="13.57" fill="#3F8A80"/>
<rect x="1801.4" y="1453.19" width="127.6" height="13.57" fill="#2D7A8E"/>
<rect x="1804" y="1466.76" width="125" height="13.57" fill="#175B8B"/>
<rect x="1835.2" y="1480.33" width="93.8" height="13.57" fill="#062D5A"/>
<rect x="1762.9" y="1534.9" width="166.1" height="13.57" fill="#DDE6AA"/>
<rect x="1775.4" y="1548.47" width="153.6" height="13.57" fill="#91C86E"/>
<rect x="1768" y="1562.04" width="161" height="13.57" fill="#5CA372"/>
<rect x="1770.3" y="1575.61" width="158.7" height="13.57" fill="#3F8A80"/>
<rect x="1761.8" y="1589.19" width="167.2" height="13.57" fill="#2D7A8E"/>
<rect x="1785.8" y="1602.76" width="143.2" height="13.57" fill="#175B8B"/>
<rect x="1840" y="1616.33" width="89" height="13.57" fill="#062D5A"/>
<line x1="1929.25" x2="1929.25" y1="1365.45" y2="1663.4" stroke="#ADADAD" stroke-width="4.55"/>
<rect x="1745.9" y="1365.45" width="219.9" height="297.95" fill="none" stroke="#B3B3B3" stroke-width="2.45"/>
<rect x="1967" y="1364.23" width="68" height="300.4" fill="#D2D2D2"/>
<text transform="translate(2001.1 1513.83) rotate(90) translate(0 11.9) scale(1 1.02)" font-size="33.33" fill="#262626" stroke="#262626" text-anchor="middle">Green</text>
<line x1="264" x2="275.3" y1="1446.4" y2="1446.4" stroke="#B3B3B3" stroke-width="2.45"/>
<line x1="264" x2="275.3" y1="1582.4" y2="1582.4" stroke="#B3B3B3" stroke-width="2.45"/>
<rect x="276.5" y="1687.5" width="219.9" height="297.9" fill="#FFFFFF"/>
<rect x="286.2" y="1720.95" width="38.8" height="13.57" fill="#DDE6AA"/>
<rect x="295.2" y="1734.52" width="29.8" height="13.57" fill="#91C86E"/>
<rect x="318.8" y="1748.09" width="6.2" height="13.57" fill="#5CA372"/>
<rect x="325" y="1761.66" width="15.9" height="13.57" fill="#3F8A80"/>
<rect x="325" y="1775.24" width="78.8" height="13.57" fill="#2D7A8E"/>
<rect x="325" y="1788.81" width="106.8" height="13.57" fill="#175B8B"/>
<rect x="325" y="1802.38" width="128.1" height="13.57" fill="#062D5A"/>
<rect x="286.2" y="1856.95" width="38.8" height="13.57" fill="#DDE6AA"/>
<rect x="291.3" y="1870.52" width="33.7" height="13.57" fill="#91C86E"/>
<rect x="308.5" y="1884.09" width="16.5" height="13.57" fill="#5CA372"/>
<rect x="325" y="1897.66" width="50.4" height="13.57" fill="#3F8A80"/>
<rect x="325" y="1911.24" width="76.8" height="13.57" fill="#2D7A8E"/>
<rect x="325" y="1924.81" width="115.1" height="13.57" fill="#175B8B"/>
<rect x="325" y="1938.38" width="162.4" height="13.57" fill="#062D5A"/>
<line x1="325.25" x2="325.25" y1="1687.5" y2="1985.4" stroke="#ADADAD" stroke-width="4.55"/>
<rect x="276.5" y="1687.5" width="219.9" height="297.9" fill="none" stroke="#B3B3B3" stroke-width="2.45"/>
<rect x="521.4" y="1687.5" width="219.9" height="297.9" fill="#FFFFFF"/>
<rect x="544.9" y="1720.95" width="108.4" height="13.57" fill="#DDE6AA"/>
<rect x="558" y="1734.52" width="95.3" height="13.57" fill="#91C86E"/>
<rect x="575" y="1748.09" width="78.3" height="13.57" fill="#5CA372"/>
<rect x="594.5" y="1761.66" width="58.8" height="13.57" fill="#3F8A80"/>
<rect x="604.5" y="1775.24" width="48.8" height="13.57" fill="#2D7A8E"/>
<rect x="616.1" y="1788.81" width="37.2" height="13.57" fill="#175B8B"/>
<rect x="653.3" y="1802.38" width="14.1" height="13.57" fill="#062D5A"/>
<rect x="551.2" y="1856.95" width="102.1" height="13.57" fill="#DDE6AA"/>
<rect x="561.1" y="1870.52" width="92.2" height="13.57" fill="#91C86E"/>
<rect x="582.4" y="1884.09" width="70.9" height="13.57" fill="#5CA372"/>
<rect x="617.2" y="1897.66" width="36.1" height="13.57" fill="#3F8A80"/>
<rect x="620.9" y="1911.24" width="32.4" height="13.57" fill="#2D7A8E"/>
<rect x="653.3" y="1924.81" width="12.1" height="13.57" fill="#175B8B"/>
<rect x="653.3" y="1938.38" width="76.7" height="13.57" fill="#062D5A"/>
<line x1="653.55" x2="653.55" y1="1687.5" y2="1985.4" stroke="#ADADAD" stroke-width="4.55"/>
<rect x="521.4" y="1687.5" width="219.9" height="297.9" fill="none" stroke="#B3B3B3" stroke-width="2.45"/>
<rect x="766.3" y="1687.5" width="219.9" height="297.9" fill="#FFFFFF"/>
<rect x="783.2" y="1720.95" width="38.6" height="13.57" fill="#DDE6AA"/>
<rect x="796" y="1734.52" width="25.8" height="13.57" fill="#91C86E"/>
<rect x="813.9" y="1748.09" width="7.9" height="13.57" fill="#5CA372"/>
<rect x="821.8" y="1761.66" width="13.9" height="13.57" fill="#3F8A80"/>
<rect x="821.8" y="1775.24" width="29.8" height="13.57" fill="#2D7A8E"/>
<rect x="821.8" y="1788.81" width="54.1" height="13.57" fill="#175B8B"/>
<rect x="821.8" y="1802.38" width="84.7" height="13.57" fill="#062D5A"/>
<rect x="790.3" y="1856.95" width="31.5" height="13.57" fill="#DDE6AA"/>
<rect x="798.3" y="1870.52" width="23.5" height="13.57" fill="#91C86E"/>
<rect x="816.7" y="1884.09" width="5.1" height="13.57" fill="#5CA372"/>
<rect x="821.8" y="1897.66" width="38.3" height="13.57" fill="#3F8A80"/>
<rect x="821.8" y="1911.24" width="55.5" height="13.57" fill="#2D7A8E"/>
<rect x="821.8" y="1924.81" width="91" height="13.57" fill="#175B8B"/>
<rect x="821.8" y="1938.38" width="83.9" height="13.57" fill="#062D5A"/>
<line x1="822.05" x2="822.05" y1="1687.5" y2="1985.4" stroke="#ADADAD" stroke-width="4.55"/>
<rect x="766.3" y="1687.5" width="219.9" height="297.9" fill="none" stroke="#B3B3B3" stroke-width="2.45"/>
<rect x="1011.2" y="1687.5" width="219.9" height="297.9" fill="#FFFFFF"/>
<rect x="1041.2" y="1720.95" width="104.2" height="13.57" fill="#DDE6AA"/>
<rect x="1063.6" y="1734.52" width="81.8" height="13.57" fill="#91C86E"/>
<rect x="1087.4" y="1748.09" width="58" height="13.57" fill="#5CA372"/>
<rect x="1073.2" y="1761.66" width="72.2" height="13.57" fill="#3F8A80"/>
<rect x="1088.5" y="1775.24" width="56.9" height="13.57" fill="#2D7A8E"/>
<rect x="1061.3" y="1788.81" width="84.1" height="13.57" fill="#175B8B"/>
<rect x="1042.6" y="1802.38" width="102.8" height="13.57" fill="#062D5A"/>
<rect x="1060.2" y="1856.95" width="85.2" height="13.57" fill="#DDE6AA"/>
<rect x="1092.2" y="1870.52" width="53.2" height="13.57" fill="#91C86E"/>
<rect x="1124.5" y="1884.09" width="20.9" height="13.57" fill="#5CA372"/>
<rect x="1094.5" y="1897.66" width="50.9" height="13.57" fill="#3F8A80"/>
<rect x="1083.1" y="1911.24" width="62.3" height="13.57" fill="#2D7A8E"/>
<rect x="1081.4" y="1924.81" width="64" height="13.57" fill="#175B8B"/>
<rect x="1145.4" y="1938.38" width="3.2" height="13.57" fill="#062D5A"/>
<line x1="1145.65" x2="1145.65" y1="1687.5" y2="1985.4" stroke="#ADADAD" stroke-width="4.55"/>
<rect x="1011.2" y="1687.5" width="219.9" height="297.9" fill="none" stroke="#B3B3B3" stroke-width="2.45"/>
<rect x="1256.1" y="1687.5" width="219.9" height="297.9" fill="#FFFFFF"/>
<rect x="1276.6" y="1720.95" width="78.3" height="13.57" fill="#DDE6AA"/>
<rect x="1290" y="1734.52" width="64.9" height="13.57" fill="#91C86E"/>
<rect x="1300.2" y="1748.09" width="54.7" height="13.57" fill="#5CA372"/>
<rect x="1308.1" y="1761.66" width="46.8" height="13.57" fill="#3F8A80"/>
<rect x="1298.5" y="1775.24" width="56.4" height="13.57" fill="#2D7A8E"/>
<rect x="1294.5" y="1788.81" width="60.4" height="13.57" fill="#175B8B"/>
<rect x="1289.1" y="1802.38" width="65.8" height="13.57" fill="#062D5A"/>
<rect x="1284" y="1856.95" width="70.9" height="13.57" fill="#DDE6AA"/>
<rect x="1295.9" y="1870.52" width="59" height="13.57" fill="#91C86E"/>
<rect x="1309.2" y="1884.09" width="45.7" height="13.57" fill="#5CA372"/>
<rect x="1334.2" y="1897.66" width="20.7" height="13.57" fill="#3F8A80"/>
<rect x="1346.1" y="1911.24" width="8.8" height="13.57" fill="#2D7A8E"/>
<rect x="1354.9" y="1924.81" width="25.8" height="13.57" fill="#175B8B"/>
<rect x="1354.9" y="1938.38" width="108" height="13.57" fill="#062D5A"/>
<line x1="1355.15" x2="1355.15" y1="1687.5" y2="1985.4" stroke="#ADADAD" stroke-width="4.55"/>
<rect x="1256.1" y="1687.5" width="219.9" height="297.9" fill="none" stroke="#B3B3B3" stroke-width="2.45"/>
<rect x="1501" y="1687.5" width="219.9" height="297.9" fill="#FFFFFF"/>
<rect x="1519.3" y="1720.95" width="28.7" height="13.57" fill="#DDE6AA"/>
<rect x="1532" y="1734.52" width="16" height="13.57" fill="#91C86E"/>
<rect x="1548" y="1761.66" width="10.4" height="13.57" fill="#3F8A80"/>
<rect x="1548" y="1775.24" width="25.7" height="13.57" fill="#2D7A8E"/>
<rect x="1548" y="1788.81" width="42.7" height="13.57" fill="#175B8B"/>
<rect x="1548" y="1802.38" width="33.3" height="13.57" fill="#062D5A"/>
<rect x="1523" y="1856.95" width="25" height="13.57" fill="#DDE6AA"/>
<rect x="1528.3" y="1870.52" width="19.7" height="13.57" fill="#91C86E"/>
<rect x="1541.1" y="1884.09" width="6.9" height="13.57" fill="#5CA372"/>
<rect x="1548" y="1911.24" width="21.7" height="13.57" fill="#2D7A8E"/>
<rect x="1548" y="1924.81" width="35" height="13.57" fill="#175B8B"/>
<rect x="1548" y="1938.38" width="55.2" height="13.57" fill="#062D5A"/>
<line x1="1548.25" x2="1548.25" y1="1687.5" y2="1985.4" stroke="#ADADAD" stroke-width="4.55"/>
<rect x="1501" y="1687.5" width="219.9" height="297.9" fill="none" stroke="#B3B3B3" stroke-width="2.45"/>
<rect x="1745.9" y="1687.5" width="219.9" height="297.9" fill="#FFFFFF"/>
<rect x="1786.1" y="1720.95" width="142.9" height="15.83" fill="#DDE6AA"/>
<rect x="1817.9" y="1736.78" width="111.1" height="15.83" fill="#91C86E"/>
<rect x="1824.7" y="1752.62" width="104.3" height="15.83" fill="#5CA372"/>
<rect x="1821.6" y="1768.45" width="107.4" height="15.83" fill="#3F8A80"/>
<rect x="1798.3" y="1784.28" width="130.7" height="15.83" fill="#2D7A8E"/>
<rect x="1827.2" y="1800.12" width="101.8" height="15.83" fill="#175B8B"/>
<rect x="1777.1" y="1856.95" width="151.9" height="13.57" fill="#DDE6AA"/>
<rect x="1796.3" y="1870.52" width="132.7" height="13.57" fill="#91C86E"/>
<rect x="1800.9" y="1884.09" width="128.1" height="13.57" fill="#5CA372"/>
<rect x="1821.8" y="1897.66" width="107.2" height="13.57" fill="#3F8A80"/>
<rect x="1820.4" y="1911.24" width="108.6" height="13.57" fill="#2D7A8E"/>
<rect x="1885.1" y="1924.81" width="43.9" height="13.57" fill="#175B8B"/>
<rect x="1929" y="1938.38" width="27.8" height="13.57" fill="#062D5A"/>
<line x1="1929.25" x2="1929.25" y1="1687.5" y2="1985.4" stroke="#ADADAD" stroke-width="4.55"/>
<rect x="1745.9" y="1687.5" width="219.9" height="297.9" fill="none" stroke="#B3B3B3" stroke-width="2.45"/>
<rect x="1967" y="1686.28" width="68" height="300.35" fill="#D2D2D2"/>
<text transform="translate(2001.1 1835.85) rotate(90) translate(0 11.9) scale(1 1.02)" font-size="33.33" fill="#262626" stroke="#262626" text-anchor="middle">Agriculture</text>
<line x1="264" x2="275.3" y1="1768.45" y2="1768.45" stroke="#B3B3B3" stroke-width="2.45"/>
<line x1="264" x2="275.3" y1="1904.45" y2="1904.45" stroke="#B3B3B3" stroke-width="2.45"/>
<text transform="translate(254.6 982.7) scale(1 1.02)" font-size="33.33" fill="#666666" stroke="#666666" text-anchor="end">Continuous</text>
<text transform="translate(240.6 1018.9) scale(1 1.02)" font-size="33.33" fill="#666666" stroke="#666666" text-anchor="end">urban f<tspan dx="-8.1">abr</tspan><tspan dx="-6">ic</tspan></text>
<text transform="translate(254.6 1118.7) scale(1 1.02)" font-size="33.33" fill="#666666" stroke="#666666" text-anchor="end">Discontinuous</text>
<text transform="translate(240.6 1154.9) scale(1 1.02)" font-size="33.33" fill="#666666" stroke="#666666" text-anchor="end">urban f<tspan dx="-8.1">abr</tspan><tspan dx="-6">ic</tspan></text>
<text transform="translate(246.3 1254.7) scale(1 1.02)" font-size="33.33" fill="#666666" stroke="#666666" text-anchor="end">Industr<tspan dx="-6.2">ial or</tspan></text>
<text transform="translate(254.6 1290.9) scale(1 1.02)" font-size="33.33" fill="#666666" stroke="#666666" text-anchor="end">commercial</text>
<text transform="translate(254.6 1458.4) scale(1 1.02)" font-size="33.33" fill="#666666" stroke="#666666" text-anchor="end">Green urban</text>
<text transform="translate(254.6 1594.5) scale(1 1.02)" font-size="33.33" fill="#666666" stroke="#666666" text-anchor="end">Forests</text>
<text transform="translate(254.6 1780.4) scale(1 1.02)" font-size="33.33" fill="#666666" stroke="#666666" text-anchor="end">Arable land</text>
<text transform="translate(254.6 1916.4) scale(1 1.02)" font-size="33.33" fill="#666666" stroke="#666666" text-anchor="end">Pastures</text>
<line x1="277.6" x2="277.6" y1="1986.33" y2="1998.53" stroke="#B3B3B3" stroke-width="2.45"/>
<text transform="translate(277.6 2008.62) rotate(-45) translate(0 23.9) scale(1 1.02)" font-size="33.33" fill="#666666" stroke="#666666" text-anchor="end"><tspan dy="1.8" stroke="#666666" stroke-width="0.67">−</tspan><tspan dy="-1.8">100</tspan></text>
<line x1="325" x2="325" y1="1986.33" y2="1998.53" stroke="#B3B3B3" stroke-width="2.45"/>
<text transform="translate(325 2008.62) rotate(-45) translate(0 23.9) scale(1 1.02)" font-size="33.33" fill="#666666" stroke="#666666" text-anchor="end">0</text>
<line x1="372.4" x2="372.4" y1="1986.33" y2="1998.53" stroke="#B3B3B3" stroke-width="2.45"/>
<text transform="translate(372.4 2008.62) rotate(-45) translate(0 23.9) scale(1 1.02)" font-size="33.33" fill="#666666" stroke="#666666" text-anchor="end">100</text>
<line x1="419.8" x2="419.8" y1="1986.33" y2="1998.53" stroke="#B3B3B3" stroke-width="2.45"/>
<text transform="translate(419.8 2008.62) rotate(-45) translate(0 23.9) scale(1 1.02)" font-size="33.33" fill="#666666" stroke="#666666" text-anchor="end">200</text>
<line x1="467.2" x2="467.2" y1="1986.33" y2="1998.53" stroke="#B3B3B3" stroke-width="2.45"/>
<text transform="translate(467.2 2008.62) rotate(-45) translate(0 23.9) scale(1 1.02)" font-size="33.33" fill="#666666" stroke="#666666" text-anchor="end">300</text>
<line x1="583.3" x2="583.3" y1="1986.33" y2="1998.53" stroke="#B3B3B3" stroke-width="2.45"/>
<text transform="translate(583.3 2008.62) rotate(-45) translate(0 23.9) scale(1 1.02)" font-size="33.33" fill="#666666" stroke="#666666" text-anchor="end"><tspan dy="1.8" stroke="#666666" stroke-width="0.67">−</tspan><tspan dy="-1.8">50</tspan></text>
<line x1="653.3" x2="653.3" y1="1986.33" y2="1998.53" stroke="#B3B3B3" stroke-width="2.45"/>
<text transform="translate(653.3 2008.62) rotate(-45) translate(0 23.9) scale(1 1.02)" font-size="33.33" fill="#666666" stroke="#666666" text-anchor="end">0</text>
<line x1="723.3" x2="723.3" y1="1986.33" y2="1998.53" stroke="#B3B3B3" stroke-width="2.45"/>
<text transform="translate(723.3 2008.62) rotate(-45) translate(0 23.9) scale(1 1.02)" font-size="33.33" fill="#666666" stroke="#666666" text-anchor="end">50</text>
<line x1="765.8" x2="765.8" y1="1986.33" y2="1998.53" stroke="#B3B3B3" stroke-width="2.45"/>
<text transform="translate(765.8 2008.62) rotate(-45) translate(0 23.9) scale(1 1.02)" font-size="33.33" fill="#666666" stroke="#666666" text-anchor="end"><tspan dy="1.8" stroke="#666666" stroke-width="0.67">−</tspan><tspan dy="-1.8">100</tspan></text>
<line x1="821.8" x2="821.8" y1="1986.33" y2="1998.53" stroke="#B3B3B3" stroke-width="2.45"/>
<text transform="translate(821.8 2008.62) rotate(-45) translate(0 23.9) scale(1 1.02)" font-size="33.33" fill="#666666" stroke="#666666" text-anchor="end">0</text>
<line x1="877.8" x2="877.8" y1="1986.33" y2="1998.53" stroke="#B3B3B3" stroke-width="2.45"/>
<text transform="translate(877.8 2008.62) rotate(-45) translate(0 23.9) scale(1 1.02)" font-size="33.33" fill="#666666" stroke="#666666" text-anchor="end">100</text>
<line x1="933.8" x2="933.8" y1="1986.33" y2="1998.53" stroke="#B3B3B3" stroke-width="2.45"/>
<text transform="translate(933.8 2008.62) rotate(-45) translate(0 23.9) scale(1 1.02)" font-size="33.33" fill="#666666" stroke="#666666" text-anchor="end">200</text>
<line x1="1069" x2="1069" y1="1986.33" y2="1998.53" stroke="#B3B3B3" stroke-width="2.45"/>
<text transform="translate(1069 2008.62) rotate(-45) translate(0 23.9) scale(1 1.02)" font-size="33.33" fill="#666666" stroke="#666666" text-anchor="end"><tspan dy="1.8" stroke="#666666" stroke-width="0.67">−</tspan><tspan dy="-1.8">50</tspan></text>
<line x1="1145.4" x2="1145.4" y1="1986.33" y2="1998.53" stroke="#B3B3B3" stroke-width="2.45"/>
<text transform="translate(1145.4 2008.62) rotate(-45) translate(0 23.9) scale(1 1.02)" font-size="33.33" fill="#666666" stroke="#666666" text-anchor="end">0</text>
<line x1="1221.8" x2="1221.8" y1="1986.33" y2="1998.53" stroke="#B3B3B3" stroke-width="2.45"/>
<text transform="translate(1221.8 2008.62) rotate(-45) translate(0 23.9) scale(1 1.02)" font-size="33.33" fill="#666666" stroke="#666666" text-anchor="end">50</text>
<line x1="1302.4" x2="1302.4" y1="1986.33" y2="1998.53" stroke="#B3B3B3" stroke-width="2.45"/>
<text transform="translate(1302.4 2008.62) rotate(-45) translate(0 23.9) scale(1 1.02)" font-size="33.33" fill="#666666" stroke="#666666" text-anchor="end"><tspan dy="1.8" stroke="#666666" stroke-width="0.67">−</tspan><tspan dy="-1.8">50</tspan></text>
<line x1="1354.9" x2="1354.9" y1="1986.33" y2="1998.53" stroke="#B3B3B3" stroke-width="2.45"/>
<text transform="translate(1354.9 2008.62) rotate(-45) translate(0 23.9) scale(1 1.02)" font-size="33.33" fill="#666666" stroke="#666666" text-anchor="end">0</text>
<line x1="1407.4" x2="1407.4" y1="1986.33" y2="1998.53" stroke="#B3B3B3" stroke-width="2.45"/>
<text transform="translate(1407.4 2008.62) rotate(-45) translate(0 23.9) scale(1 1.02)" font-size="33.33" fill="#666666" stroke="#666666" text-anchor="end">50</text>
<line x1="1459.9" x2="1459.9" y1="1986.33" y2="1998.53" stroke="#B3B3B3" stroke-width="2.45"/>
<text transform="translate(1459.9 2008.62) rotate(-45) translate(0 23.9) scale(1 1.02)" font-size="33.33" fill="#666666" stroke="#666666" text-anchor="end">100</text>
<line x1="1548" x2="1548" y1="1986.33" y2="1998.53" stroke="#B3B3B3" stroke-width="2.45"/>
<text transform="translate(1548 2008.62) rotate(-45) translate(0 23.9) scale(1 1.02)" font-size="33.33" fill="#666666" stroke="#666666" text-anchor="end">0</text>
<line x1="1596.4" x2="1596.4" y1="1986.33" y2="1998.53" stroke="#B3B3B3" stroke-width="2.45"/>
<text transform="translate(1596.4 2008.62) rotate(-45) translate(0 23.9) scale(1 1.02)" font-size="33.33" fill="#666666" stroke="#666666" text-anchor="end">100</text>
<line x1="1644.8" x2="1644.8" y1="1986.33" y2="1998.53" stroke="#B3B3B3" stroke-width="2.45"/>
<text transform="translate(1644.8 2008.62) rotate(-45) translate(0 23.9) scale(1 1.02)" font-size="33.33" fill="#666666" stroke="#666666" text-anchor="end">200</text>
<line x1="1693.2" x2="1693.2" y1="1986.33" y2="1998.53" stroke="#B3B3B3" stroke-width="2.45"/>
<text transform="translate(1693.2 2008.62) rotate(-45) translate(0 23.9) scale(1 1.02)" font-size="33.33" fill="#666666" stroke="#666666" text-anchor="end">300</text>
<line x1="1763.4" x2="1763.4" y1="1986.33" y2="1998.53" stroke="#B3B3B3" stroke-width="2.45"/>
<text transform="translate(1763.4 2008.62) rotate(-45) translate(0 23.9) scale(1 1.02)" font-size="33.33" fill="#666666" stroke="#666666" text-anchor="end"><tspan dy="1.8" stroke="#666666" stroke-width="0.67">−</tspan><tspan dy="-1.8">80</tspan></text>
<line x1="1804.8" x2="1804.8" y1="1986.33" y2="1998.53" stroke="#B3B3B3" stroke-width="2.45"/>
<text transform="translate(1804.8 2008.62) rotate(-45) translate(0 23.9) scale(1 1.02)" font-size="33.33" fill="#666666" stroke="#666666" text-anchor="end"><tspan dy="1.8" stroke="#666666" stroke-width="0.67">−</tspan><tspan dy="-1.8">60</tspan></text>
<line x1="1846.2" x2="1846.2" y1="1986.33" y2="1998.53" stroke="#B3B3B3" stroke-width="2.45"/>
<text transform="translate(1846.2 2008.62) rotate(-45) translate(0 23.9) scale(1 1.02)" font-size="33.33" fill="#666666" stroke="#666666" text-anchor="end"><tspan dy="1.8" stroke="#666666" stroke-width="0.67">−</tspan><tspan dy="-1.8">40</tspan></text>
<line x1="1887.6" x2="1887.6" y1="1986.33" y2="1998.53" stroke="#B3B3B3" stroke-width="2.45"/>
<text transform="translate(1887.6 2008.62) rotate(-45) translate(0 23.9) scale(1 1.02)" font-size="33.33" fill="#666666" stroke="#666666" text-anchor="end"><tspan dy="1.8" stroke="#666666" stroke-width="0.67">−</tspan><tspan dy="-1.8">20</tspan></text>
<line x1="1929" x2="1929" y1="1986.33" y2="1998.53" stroke="#B3B3B3" stroke-width="2.45"/>
<text transform="translate(1929 2008.62) rotate(-45) translate(0 23.9) scale(1 1.02)" font-size="33.33" fill="#666666" stroke="#666666" text-anchor="end">0</text>
<text transform="translate(1121.1 2123.1) scale(1 1.02)" font-size="41.67" fill="#111111" stroke="#111111" text-anchor="middle">Between<tspan dy="2.25" stroke="#111111" stroke-width="0.83">−</tspan><tspan dy="-2.25"> to within</tspan><tspan dy="2.25" stroke="#111111" stroke-width="0.83">−</tspan><tspan dy="-2.25"> city environmental difference [%]</tspan></text>
<rect x="352.1" y="2215.3" width="220" height="23.5" fill="#DDE6AA"/>
<text transform="translate(462.25 2259.2) rotate(-30) translate(0 23.9) scale(1 1.02)" font-size="33.33" fill="#666666" stroke="#666666" text-anchor="end">0<tspan dy="1.8" stroke="#666666" stroke-width="0.67">−</tspan><tspan dy="-1.8">500 km</tspan></text>
<rect x="571.8" y="2215.3" width="220" height="23.5" fill="#91C86E"/>
<text transform="translate(681.95 2259.2) rotate(-30) translate(0 23.9) scale(1 1.02)" font-size="33.33" fill="#666666" stroke="#666666" text-anchor="end">500<tspan dy="1.8" stroke="#666666" stroke-width="0.67">−</tspan><tspan dy="-1.8">1000 km</tspan></text>
<rect x="791.5" y="2215.3" width="220" height="23.5" fill="#5CA372"/>
<text transform="translate(901.65 2259.2) rotate(-30) translate(0 23.9) scale(1 1.02)" font-size="33.33" fill="#666666" stroke="#666666" text-anchor="end">1000<tspan dy="1.8" stroke="#666666" stroke-width="0.67">−</tspan><tspan dy="-1.8">1500 km</tspan></text>
<rect x="1011.2" y="2215.3" width="220" height="23.5" fill="#3F8A80"/>
<text transform="translate(1121.35 2259.2) rotate(-30) translate(0 23.9) scale(1 1.02)" font-size="33.33" fill="#666666" stroke="#666666" text-anchor="end">1500<tspan dy="1.8" stroke="#666666" stroke-width="0.67">−</tspan><tspan dy="-1.8">2000 km</tspan></text>
<rect x="1230.9" y="2215.3" width="220" height="23.5" fill="#2D7A8E"/>
<text transform="translate(1341.05 2259.2) rotate(-30) translate(0 23.9) scale(1 1.02)" font-size="33.33" fill="#666666" stroke="#666666" text-anchor="end">2000<tspan dy="1.8" stroke="#666666" stroke-width="0.67">−</tspan><tspan dy="-1.8">2500 km</tspan></text>
<rect x="1450.6" y="2215.3" width="220" height="23.5" fill="#175B8B"/>
<text transform="translate(1560.75 2259.2) rotate(-30) translate(0 23.9) scale(1 1.02)" font-size="33.33" fill="#666666" stroke="#666666" text-anchor="end">2500<tspan dy="1.8" stroke="#666666" stroke-width="0.67">−</tspan><tspan dy="-1.8">3000 km</tspan></text>
<rect x="1670.3" y="2215.3" width="219.7" height="23.5" fill="#062D5A"/>
<text transform="translate(1780.45 2259.2) rotate(-30) translate(0 23.9) scale(1 1.02)" font-size="33.33" fill="#666666" stroke="#666666" text-anchor="end">3000<tspan dy="1.8" stroke="#666666" stroke-width="0.67">−</tspan><tspan dy="-1.8">3500 km</tspan></text>
</svg>
</body>
</html>
